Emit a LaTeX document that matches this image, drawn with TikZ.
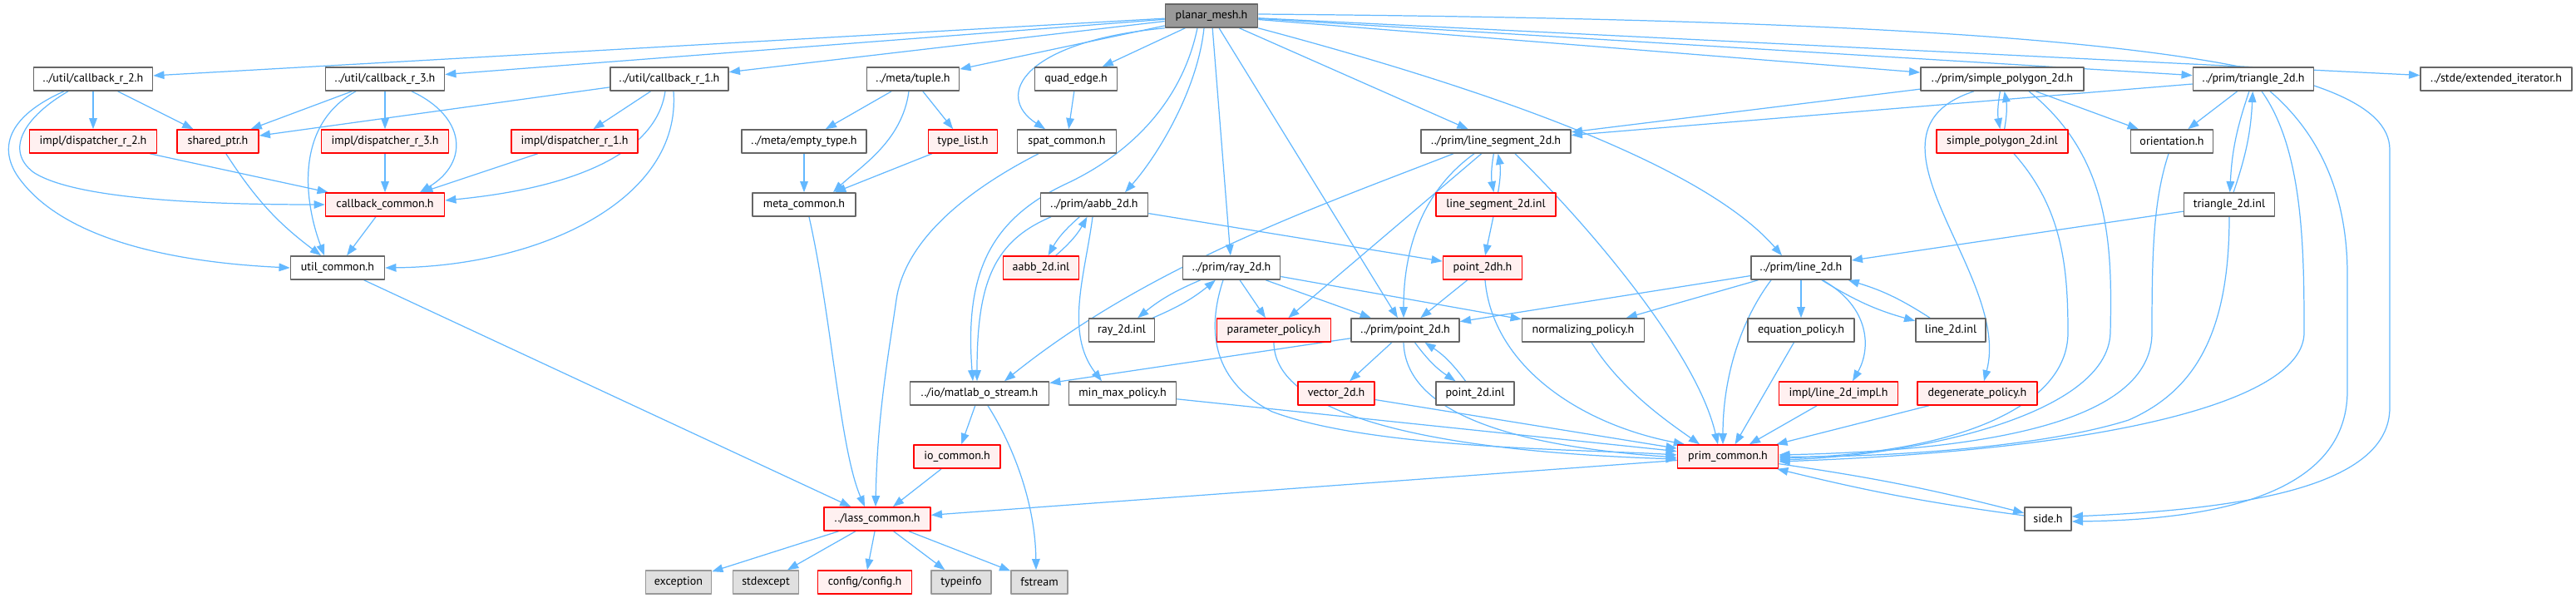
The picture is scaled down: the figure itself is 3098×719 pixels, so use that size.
\documentclass[tikz,border=0pt]{standalone}
\usepackage{fontspec}
\setmainfont{PT Sans}
\usetikzlibrary{arrows.meta,backgrounds}
\definecolor{edgeblue}{HTML}{63B8FF}
\definecolor{boxgray}{HTML}{666666}
\definecolor{rootfill}{HTML}{999999}
\definecolor{sysline}{HTML}{999999}
\definecolor{sysfill}{HTML}{E0E0E0}
\definecolor{redfill}{HTML}{FFF0F0}

\begin{document}
\begin{tikzpicture}[line cap=round,line join=round,x=0.02cm,y=-0.02cm,>={Triangle[length=7.5pt,width=5.5pt]},
	file/.style={draw=boxgray,fill=white,line width=0.9pt,minimum height=0.56cm,inner sep=0pt,font=\fontsize{8pt}{9pt}\selectfont},
	redfile/.style={file,draw=red,fill=redfill},
	rootfile/.style={file,fill=rootfill},
	sysfile/.style={file,draw=sysline,fill=sysfill},
	wd/.style={minimum width=#1*0.02cm},
	dep/.style={->,draw=edgeblue,line width=0.7pt}]
	\useasboundingbox (0,0) rectangle (3098,719);
	% rank 1
	\node[rootfile,wd=111] (planar) at (1457,19) {planar\_mesh.h};
	% rank 2
	\node[file,wd=143] (cbr2) at (112,95) {../util/callback\_r\_2.h};
	\node[file,wd=143] (cbr3) at (463,95) {../util/callback\_r\_3.h};
	\node[file,wd=142] (cbr1) at (805,95) {../util/callback\_r\_1.h};
	\node[file,wd=111] (tuple) at (1098,95) {../meta/tuple.h};
	\node[file,wd=99] (quadedge) at (1294,95) {quad\_edge.h};
	\node[file,wd=196] (simplepoly) at (2408,95) {../prim/simple\_polygon\_2d.h};
	\node[file,wd=145] (triangle) at (2710,95) {../prim/triangle\_2d.h};
	\node[file,wd=182] (extiter) at (3002,95) {../stde/extended\_iterator.h};
	% rank 3
	\node[redfile,wd=153] (disp2) at (112,170) {impl/dispatcher\_r\_2.h};
	\node[redfile,wd=98] (sharedptr) at (262,170) {shared\_ptr.h};
	\node[redfile,wd=153] (disp3) at (463,170) {impl/dispatcher\_r\_3.h};
	\node[redfile,wd=152] (disp1) at (691,170) {impl/dispatcher\_r\_1.h};
	\node[file,wd=150] (emptytype) at (967,170) {../meta/empty\_type.h};
	\node[redfile,wd=83] (typelist) at (1158,170) {type\_list.h};
	\node[file,wd=119] (spatcommon) at (1283,170) {spat\_common.h};
	\node[file,wd=180] (linesegment) at (1799,170) {../prim/line\_segment\_2d.h};
	\node[redfile,wd=158] (simplepolyinl) at (2408,170) {simple\_polygon\_2d.inl};
	\node[file,wd=99] (orientation) at (2612,170) {orientation.h};
	% rank 4
	\node[redfile,wd=143] (callbackcommon) at (463,246) {callback\_common.h};
	\node[file,wd=124] (metacommon) at (967,246) {meta\_common.h};
	\node[file,wd=129] (aabb) at (1316,246) {../prim/aabb\_2d.h};
	\node[redfile,wd=144] (linesegmentinl) at (1799,246) {line\_segment\_2d.inl};
	\node[file,wd=109] (triangleinl) at (2681,246) {triangle\_2d.inl};
	% rank 5
	\node[file,wd=113] (utilcommon) at (406,322) {util\_common.h};
	\node[redfile,wd=91] (aabbinl) at (1252,322) {aabb\_2d.inl};
	\node[file,wd=117] (ray) at (1481,322) {../prim/ray\_2d.h};
	\node[redfile,wd=95] (point2dh) at (1783,322) {point\_2dh.h};
	\node[file,wd=120] (line) at (2166,322) {../prim/line\_2d.h};
	% rank 6
	\node[file,wd=79] (rayinl) at (1349,397) {ray\_2d.inl};
	\node[redfile,wd=137] (parampolicy) at (1532,397) {parameter\_policy.h};
	\node[file,wd=130] (point2d) at (1690,397) {../prim/point\_2d.h};
	\node[file,wd=147] (normpolicy) at (1904,397) {normalizing\_policy.h};
	\node[file,wd=128] (eqpolicy) at (2166,397) {equation\_policy.h};
	\node[file,wd=84] (lineinl) at (2346,397) {line\_2d.inl};
	% rank 7
	\node[file,wd=167] (matlab) at (1178,473) {../io/matlab\_o\_stream.h};
	\node[file,wd=129] (minmax) at (1350,473) {min\_max\_policy.h};
	\node[redfile,wd=92] (vector2d) at (1607,473) {vector\_2d.h};
	\node[file,wd=94] (point2dinl) at (1774,473) {point\_2d.inl};
	\node[redfile,wd=143] (lineimpl) at (2211,473) {impl/line\_2d\_impl.h};
	\node[redfile,wd=144] (degpolicy) at (2378,473) {degenerate\_policy.h};
	% rank 8
	\node[redfile,wd=104] (iocommon) at (1151,549) {io\_common.h};
	\node[redfile,wd=121] (primcommon) at (2078,549) {prim\_common.h};
	% rank 9
	\node[redfile,wd=128] (lasscommon) at (1055,624) {../lass\_common.h};
	\node[file,wd=56] (side) at (2463,624) {side.h};
	% rank 10
	\node[sysfile,wd=79] (exception) at (816,700) {exception};
	\node[sysfile,wd=79] (stdexcept) at (921,700) {stdexcept};
	\node[redfile,wd=113] (config) at (1040,700) {config/config.h};
	\node[sysfile,wd=72] (typeinfo) at (1156,700) {typeinfo};
	\node[sysfile,wd=68] (fstream) at (1250,700) {fstream};
	\begin{pgfonlayer}{background}
		% planar_mesh.h
		\draw[dep] (planar) -- (cbr2);
		\draw[dep] (planar) -- (cbr3);
		\draw[dep] (planar) -- (cbr1);
		\draw[dep] (planar) -- (tuple);
		\draw[dep] (planar) -- (quadedge);
		\draw[dep] (planar.south west) .. controls (1230,50) and (1195,115) .. ([shift={(-26,0)}]spatcommon.north);
		\draw[dep] ([shift={(-17,0)}]planar.south) .. controls (1420,130) and (1350,190) .. (1280,222) .. controls (1190,265) and (1160,330) .. ([shift={(-8,0)}]matlab.north);
		\draw[dep] ([shift={(-9,0)}]planar.south) .. controls (1440,110) and (1390,190) .. ([shift={(37,0)}]aabb.north);
		\draw[dep] (planar) -- (ray);
		\draw[dep] (planar) -- (point2d);
		\draw[dep] (planar) -- (linesegment);
		\draw[dep] (planar.south east) .. controls (1800,110) and (2050,200) .. ([shift={(-23,0)}]line.north);
		\draw[dep] (planar) -- (simplepoly);
		\draw[dep] (planar) -- (triangle);
		\draw[dep] (planar) -- (extiter);
		\draw[dep] ([shift={(0,-2)}]planar.east) .. controls (2500,25) and (2874,70) .. (2874,180) -- (2874,490) .. controls (2874,585) and (2700,612) .. ([shift={(0,-3)}]side.east);
		% callbacks
		\draw[dep] (cbr2) -- (disp2);
		\draw[dep] (cbr2) -- (sharedptr);
		\draw[dep] ([shift={(-30,0)}]cbr2.south) .. controls (30,140) and (5,180) .. (40,207) .. controls (90,240) and (250,246) .. (callbackcommon.west);
		\draw[dep] ([shift={(-35,0)}]cbr2.south) .. controls (20,135) and (-5,170) .. (20,210) .. controls (70,285) and (200,315) .. (utilcommon.west);
		\draw[dep] (cbr3) -- (sharedptr);
		\draw[dep] (cbr3) -- (disp3);
		\draw[dep] ([shift={(32,0)}]cbr3.south) .. controls (560,140) and (565,195) .. ([shift={(42,0)}]callbackcommon.north);
		\draw[dep] ([shift={(-35,0)}]cbr3.south) .. controls (355,150) and (365,240) .. ([shift={(-16,0)}]utilcommon.north);
		\draw[dep] (cbr1) -- (sharedptr);
		\draw[dep] (cbr1) -- (disp1);
		\draw[dep] ([shift={(-5,0)}]cbr1.south) .. controls (790,180) and (700,225) .. ([shift={(0,-5)}]callbackcommon.east);
		\draw[dep] ([shift={(5,0)}]cbr1.south) .. controls (820,240) and (650,320) .. (utilcommon.east);
		\draw[dep] (disp2) -- (callbackcommon);
		\draw[dep] (disp3) -- (callbackcommon);
		\draw[dep] (disp1) -- (callbackcommon);
		\draw[dep] (sharedptr) to[bend right=10] (utilcommon);
		\draw[dep] (callbackcommon) -- (utilcommon);
		\draw[dep] (utilcommon) -- (lasscommon);
		% meta
		\draw[dep] (tuple) -- (emptytype);
		\draw[dep] ([shift={(-5,0)}]tuple.south) .. controls (1085,170) and (1035,200) .. ([shift={(35,0)}]metacommon.north);
		\draw[dep] (tuple) -- (typelist);
		\draw[dep] (emptytype) -- (metacommon);
		\draw[dep] (typelist) -- (metacommon);
		\draw[dep] ([shift={(6,0)}]metacommon.south) .. controls (1000,380) and (1010,540) .. ([shift={(-15,0)}]lasscommon.north);
		\draw[dep] (quadedge) -- (spatcommon);
		\draw[dep] ([shift={(-34,0)}]spatcommon.south) .. controls (1180,220) and (1090,280) .. (1078,360) .. controls (1068,430) and (1055,500) .. ([shift={(-2,0)}]lasscommon.north);
		% aabb, ray
		\draw[dep] (aabb) to[bend right=10] (aabbinl);
		\draw[dep] (aabbinl) to[bend right=10] (aabb);
		\draw[dep] ([shift={(-52,0)}]aabb.south) .. controls (1195,290) and (1175,340) .. ([shift={(-3,0)}]matlab.north);
		\draw[dep] ([shift={(-2,0)}]aabb.south) .. controls (1305,330) and (1280,400) .. ([shift={(-25,0)}]minmax.north);
		\draw[dep] (aabb) -- (point2dh);
		\draw[dep] (ray) to[bend right=8] (rayinl);
		\draw[dep] (rayinl) to[bend right=8] (ray);
		\draw[dep] (ray) -- (parampolicy);
		\draw[dep] (ray) -- (point2d);
		\draw[dep] (ray) -- (normpolicy);
		\draw[dep] ([shift={(-10,0)}]ray.south) .. controls (1450,400) and (1460,460) .. (1530,495) .. controls (1650,540) and (1900,540) .. ([shift={(0,-2)}]primcommon.west);
		% line segment, points
		\draw[dep] ([shift={(-51,0)}]linesegment.south) .. controls (1580,250) and (1380,320) .. ([shift={(30,0)}]matlab.north);
		\draw[dep] (linesegment) -- (parampolicy);
		\draw[dep] ([shift={(-26,0)}]linesegment.south) .. controls (1710,230) and (1688,300) .. ([shift={(-2,0)}]point2d.north);
		\draw[dep] (linesegment) to[bend right=10] (linesegmentinl);
		\draw[dep] (linesegmentinl) to[bend right=10] (linesegment);
		\draw[dep] ([shift={(23,0)}]linesegment.south) .. controls (1900,260) and (2040,420) .. ([shift={(-12,0)}]primcommon.north);
		\draw[dep] (linesegmentinl) -- (point2dh);
		\draw[dep] (point2dh) -- (point2d);
		\draw[dep] ([shift={(3,0)}]point2dh.south) .. controls (1795,440) and (1900,510) .. ([shift={(-52,0)}]primcommon.north);
		\draw[dep] (point2d) -- (matlab);
		\draw[dep] (point2d) -- (vector2d);
		\draw[dep] (point2d) to[bend right=10] (point2dinl);
		\draw[dep] (point2dinl) to[bend right=10] (point2d);
		\draw[dep] ([shift={(-2,0)}]point2d.south) .. controls (1690,490) and (1800,535) .. ([shift={(0,1)}]primcommon.west);
		\draw[dep] (parampolicy.south) .. controls (1532,480) and (1650,540) .. ([shift={(0,3)}]primcommon.west);
		\draw[dep] (vector2d) -- (primcommon);
		\draw[dep] (minmax) -- (primcommon);
		\draw[dep] ([shift={(10,0)}]normpolicy.south) .. controls (1950,470) and (2010,510) .. ([shift={(-34,0)}]primcommon.north);
		% line
		\draw[dep] (line) -- (point2d);
		\draw[dep] (line) -- (normpolicy);
		\draw[dep] ([shift={(-36,0)}]line.south) .. controls (2090,390) and (2072,460) .. ([shift={(-6,0)}]primcommon.north);
		\draw[dep] (line) -- (eqpolicy);
		\draw[dep] ([shift={(26,0)}]line.south) .. controls (2250,370) and (2250,420) .. ([shift={(17,0)}]lineimpl.north);
		\draw[dep] (line) to[bend right=8] (lineinl);
		\draw[dep] (lineinl) to[bend right=8] (line);
		\draw[dep] (eqpolicy) -- (primcommon);
		\draw[dep] (lineimpl) -- (primcommon);
		\draw[dep] (degpolicy) -- (primcommon);
		% polygon, triangle
		\draw[dep] (simplepoly) -- (linesegment);
		\draw[dep] (triangle) -- (linesegment);
		\draw[dep] (simplepoly) to[bend right=10] (simplepolyinl);
		\draw[dep] (simplepolyinl) to[bend right=10] (simplepoly);
		\draw[dep] (simplepoly) -- (orientation);
		\draw[dep] ([shift={(-34,0)}]simplepoly.south) .. controls (2220,160) and (2420,330) .. ([shift={(8,0)}]degpolicy.north);
		\draw[dep] ([shift={(32,0)}]simplepoly.south) .. controls (2540,190) and (2540,300) .. (2538,400) .. controls (2535,500) and (2300,548) .. ([shift={(0,4)}]primcommon.east);
		\draw[dep] ([shift={(14,0)}]simplepolyinl.south) .. controls (2480,250) and (2487,320) .. (2487,400) .. controls (2487,490) and (2350,545) .. ([shift={(0,2)}]primcommon.east);
		\draw[dep] (triangle) -- (orientation);
		\draw[dep] (triangle) to[bend right=8] (triangleinl);
		\draw[dep] (triangleinl) to[bend right=8] (triangle);
		\draw[dep] ([shift={(10,0)}]triangle.south) .. controls (2770,180) and (2771,300) .. (2771,400) .. controls (2771,480) and (2550,540) .. ([shift={(0,6)}]primcommon.east);
		\draw[dep] ([shift={(20,0)}]triangle.south) .. controls (2800,170) and (2823,250) .. (2823,330) -- (2823,470) .. controls (2823,600) and (2650,625) .. ([shift={(0,3)}]side.east);
		\draw[dep] (triangleinl) -- (line);
		\draw[dep] (triangleinl.south) .. controls (2681,400) and (2640,470) .. (2560,505) .. controls (2450,540) and (2250,550) .. ([shift={(0,0)}]primcommon.east);
		\draw[dep] ([shift={(-4,0)}]orientation.south) .. controls (2590,240) and (2588,300) .. (2588,400) .. controls (2588,490) and (2450,540) .. ([shift={(0,-2)}]primcommon.east);
		% common headers
		\draw[dep] (primcommon) -- (lasscommon);
		\draw[dep] (primcommon) to[bend left=3] (side);
		\draw[dep] (side) to[bend left=3] (primcommon);
		\draw[dep] (lasscommon) -- (exception);
		\draw[dep] (lasscommon) -- (stdexcept);
		\draw[dep] (lasscommon) -- (config);
		\draw[dep] (lasscommon) -- (typeinfo);
		\draw[dep] (lasscommon) -- (fstream);
		\draw[dep] (matlab) -- (iocommon);
		\draw[dep] ([shift={(10,0)}]matlab.south) .. controls (1215,530) and (1245,600) .. ([shift={(-4,0)}]fstream.north);
		\draw[dep] (iocommon) -- (lasscommon);
	\end{pgfonlayer}
\end{tikzpicture}
\end{document}
